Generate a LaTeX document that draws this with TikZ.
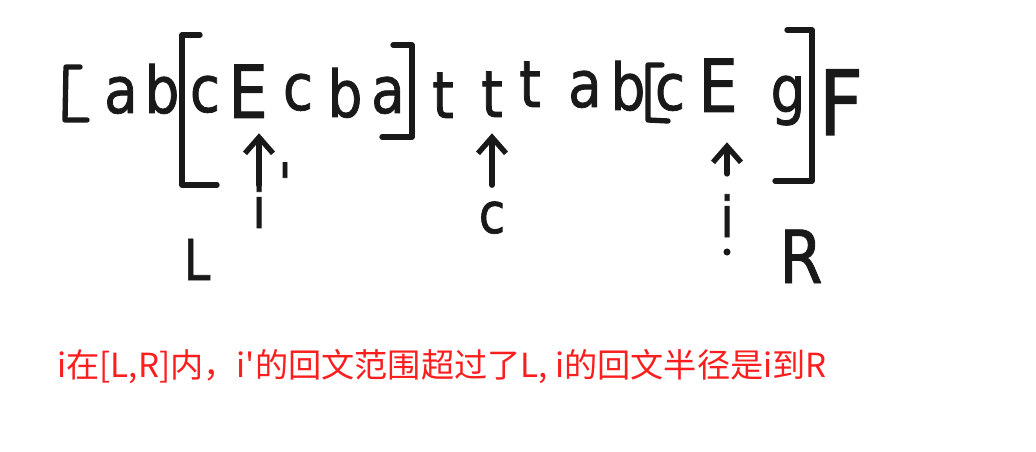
\documentclass[tikz,border=0pt]{standalone}
\usepackage{fontspec}
\usepackage{xcolor}
\usepackage{tikz}
\usetikzlibrary{arrows.meta}
\newfontfamily\handfont[FakeStretch=0.85,FakeBold=1.2]{DejaVu Sans}
\newfontfamily\cjk{Noto Sans CJK SC}
\definecolor{ink}{RGB}{25,25,25}
\definecolor{notered}{RGB}{250,30,30}
\tikzset{
letter/.style={
anchor=base,
inner sep=0pt,
text=ink,
font=\handfont\fontsize{46}{46}\selectfont
},
bigletter/.style={
letter,
font=\handfont\fontsize{52}{52}\selectfont
},
label/.style={
letter,
font=\handfont\fontsize{40}{40}\selectfont
},
bracket/.style={
draw=ink,
line width=3.8pt,
line cap=round,
line join=round
},
handarrow/.style={
bracket,
-{Straight Barb[length=4mm,width=7mm,line width=3.8pt]}
},
note/.style={
anchor=west,
inner sep=0pt,
text=notered,
font=\cjk\fontsize{23.6}{23.6}\selectfont
}
}
\begin{document}
\begin{tikzpicture}[x=0.025cm,y=-0.025cm]
\useasboundingbox[fill=white] (0,0) rectangle (1036,452);
\node[letter](a1) at (121,113){a};
\node[letter](b1) at (162,113){b};
\node[letter](c1) at (205,112){c};
\node[bigletter](E1) at (248,118){E};
\node[letter](c2) at (298,110){c};
\node[letter](b2) at (345,117){b};
\node[letter](a2) at (388,113){a};
\node[letter](t1) at (443,118){t};
\node[letter](t2) at (492,117){t};
\node[letter](t3) at (530,107){t};
\node[letter](a3) at (585,107){a};
\node[letter](b3) at (628,110){b};
\node[letter](c3) at (670,110){c};
\node[bigletter](E2) at (718,112){E};
\node[letter](g1) at (788,112){g};
\node[letter,font=\handfont\fontsize{64}{64}\selectfont](F1) at (841,135){F};

\node[label](i1) at (259,228){i};
\node[label,anchor=center](p1) at (285,183){'};
\node[label](cl) at (492,233){c};
\node[label](i2) at (727,237){i};
\node[label](L) at (197,280){L};
\node[label,font=\handfont\fontsize{52}{52}\selectfont](R) at (801,283){R};

\draw[bracket] (80,67) -- (66,67) -- (65,120) -- (87,120);
\draw[bracket] (200,35) -- (182,35) -- (182,185) -- (217,185);
\draw[bracket] (393,45) -- (412,45) -- (412,137) -- (382,137);
\draw[bracket] (662,65) -- (648,65) -- (648,120) -- (668,121);
\draw[bracket] (787,30) -- (812,30) -- (812,181) -- (775,181);
\fill[ink] (727,252) circle (2.5pt);

\draw[handarrow,shorten >=0.375cm] (i1.north) -- (i1.north |- E1.south);
\draw[handarrow,shorten <=0.4cm,shorten >=0.4cm] (cl.north) -- (cl.north |- t2.south);
\draw[handarrow,shorten <=0.5cm,shorten >=0.75cm] (i2.north) -- (i2.north |- E2.south);

\node[note](cap) at (57,367){i在[L,R]内，i'的回文范围超过了L, i的回文半径是i到R};
\end{tikzpicture}
\end{document}
